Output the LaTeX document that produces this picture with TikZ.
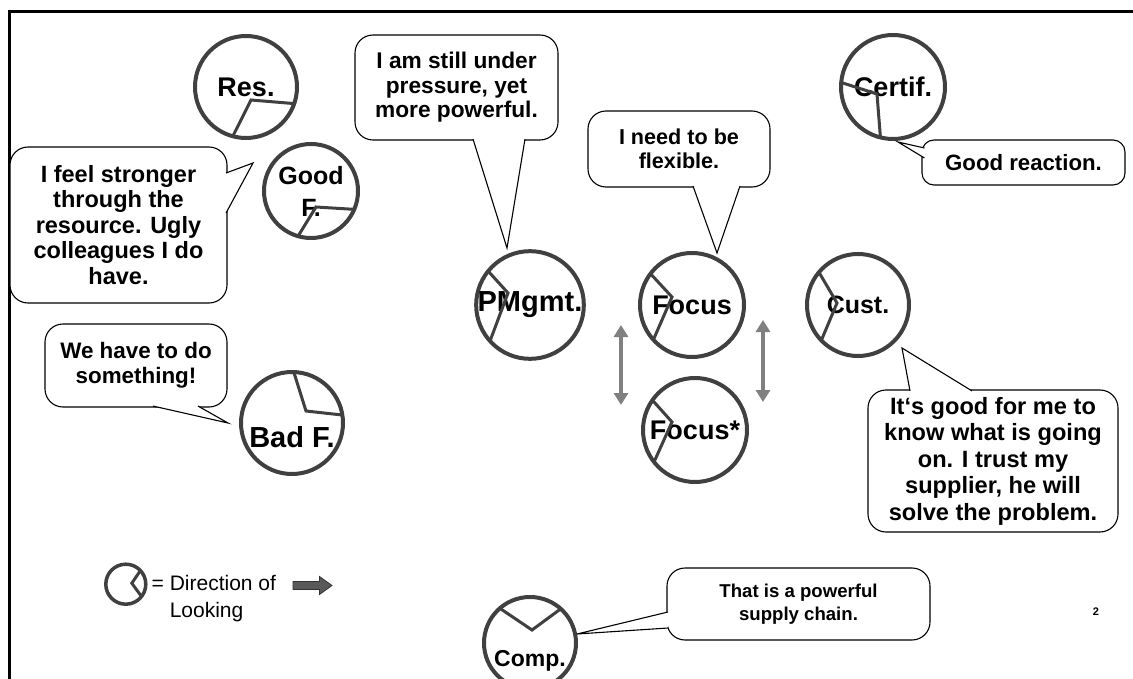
\documentclass[tikz,border=0pt]{standalone}
\usepackage{fontspec}
\setmainfont{Liberation Sans}
\usepackage{tikz}
\usetikzlibrary{positioning}
\usetikzlibrary{arrows.meta}
\usetikzlibrary{calc}
\usetikzlibrary{math}

\definecolor{ringgray}{HTML}{404040}
\definecolor{arrowgray}{HTML}{808080}
\definecolor{blockgray}{HTML}{595959}

\tikzset{
  actor/.style={circle, draw=ringgray, line width=4pt, fill=white, inner sep=0pt, outer sep=0pt,
    minimum size=102pt, align=center, font=\bfseries\fontsize{27}{32}\selectfont},
  look/.style={draw=ringgray, line width=3pt},
  bubble/.style={draw=black, line width=1.1pt, fill=white, rounded corners=18pt, inner sep=0pt, align=center},
  tailside/.style={draw=black, line width=1.1pt},
  updown/.style={arrowgray, line width=4.5pt, {Triangle[length=12pt,width=14pt]}-{Triangle[length=12pt,width=14pt]}},
}

\begin{document}
\begin{tikzpicture}[x=1pt,y=-1pt]
      \tikzmath{
        \dBig = 102;
        \dMid = 104;
        \dSmall = 94;
        \dComp = 92;
        \dKey = 40;
      }
      \useasboundingbox (0,0) rectangle (1133,679);

      % frame
      \draw[line width=3pt] (9.7,679) -- (9.7,11.3) -- (1133,11.3);

      % the parties
      \node[actor, minimum size=\dBig pt] (res) at (246,87) {Res.};
      \node[actor, minimum size=\dSmall pt, font=\bfseries\fontsize{25}{32}\selectfont] (goodf) at (311,191) {Good\\F.};
      \node[actor, minimum size=\dBig pt, font=\bfseries\fontsize{29}{32}\selectfont,
        text height=48.8pt, text depth=0pt] (badf) at (292,423) {Bad F.};
      \node[actor, minimum size=\dBig pt, font=\bfseries\fontsize{29}{32}\selectfont] (pm) at (530,305) {PMgmt.};
      \node[actor, minimum size=\dMid pt] (focus) at (692,305) {Focus};
      \node[actor, minimum size=\dMid pt] (focusb) at (695,430) {Focus*};
      \node[actor, minimum size=\dBig pt, font=\bfseries\fontsize{25}{32}\selectfont] (cust) at (858,305) {Cust.};
      \node[actor, minimum size=\dMid pt] (certif) at (893,87) {Certif.};
      \node[actor, minimum size=\dComp pt, font=\bfseries\fontsize{23}{28}\selectfont,
        text height=51.2pt, text depth=4.8pt] (comp) at (530,643) {Comp.};

      % direction of looking
      \draw[look] (res.-19) -- ($(res.center)+(5,13)$) -- (res.-105);
      \draw[look] (goodf.-23) -- ($(goodf.center)+(5,16)$) -- (goodf.-106);
      \draw[look] (badf.88) -- ($(badf.center)+(14,-12)$) -- (badf.9);
      \draw[look] (pm.141) -- ($(pm.center)+(-22,-12)$) -- (pm.-138);
      \draw[look] (focus.143) -- ($(focus.center)+(-20,-8)$) -- (focus.-138);
      \draw[look] (focusb.145) -- ($(focusb.center)+(-23,-8)$) -- (focusb.-142);
      \draw[look] (cust.140) -- ($(cust.center)+(-21,-2)$) -- (cust.-136);
      \draw[look] (certif.175) -- ($(certif.center)+(-16,7)$) -- (certif.-104);
      \draw[look] (comp.131) -- ($(comp.center)+(2,-13)$) -- (comp.48);

      % what they say
      \node[bubble, minimum width=217pt, minimum height=156pt, font=\bfseries\fontsize{23.5}{25.5}\selectfont]
        (feel) at (118.5,225) {I feel stronger\\through the\\resource. Ugly\\colleagues I do\\have.};
      \node[bubble, minimum width=203pt, minimum height=105pt, font=\bfseries\fontsize{22.7}{24.5}\selectfont]
        (pressure) at (456.5,87.5) {I am still under\\pressure, yet\\more powerful.};
      \node[bubble, minimum width=182pt, minimum height=76pt, font=\bfseries\fontsize{21.6}{24}\selectfont]
        (flexible) at (679,149) {I need to be\\flexible.};
      \node[bubble, minimum width=182pt, minimum height=83pt, font=\bfseries\fontsize{22.4}{25}\selectfont]
        (something) at (136,365.5) {We have to do\\something!};
      \node[bubble, rounded corners=12pt, minimum width=203pt, minimum height=45pt, font=\bfseries\fontsize{22.2}{25}\selectfont]
        (reaction) at (1023.5,162.5) {Good reaction.};
      \node[bubble, minimum width=250pt, minimum height=142pt, font=\bfseries\fontsize{23.6}{26.5}\selectfont]
        (going) at (993,461) {It‘s good for me to\\know what is going\\on. I trust my\\supplier, he will\\solve the problem.};
      \node[bubble, minimum width=263pt, minimum height=72pt, font=\bfseries\fontsize{18.6}{23}\selectfont]
        (powerful) at (798.5,604) {That is a powerful\\supply chain.};

      \coordinate (feel tip) at (253,163);
      \coordinate (pressure tip) at (507,248);
      \coordinate (flexible tip) at (717,253);
      \coordinate (something tip) at (228,423);
      \coordinate (reaction tip) at (898,142);
      \coordinate (going tip) at (902,348);
      \coordinate (powerful tip) at (577,634);

      \fill[white] ($(feel.east)+(-1.5,-52)$) -- (feel tip) -- ($(feel.east)+(-1.5,-12)$) -- cycle;
      \draw[tailside] ($(feel.east)+(-1.5,-52)$) -- (feel tip) -- ($(feel.east)+(-1.5,-12)$);
      \fill[white] ($(pressure.south)+(16.5,-1.5)$) -- (pressure tip) -- ($(pressure.south)+(68.5,-1.5)$) -- cycle;
      \draw[tailside] ($(pressure.south)+(16.5,-1.5)$) -- (pressure tip) -- ($(pressure.south)+(68.5,-1.5)$);
      \fill[white] ($(flexible.south)+(14,-1.5)$) -- (flexible tip) -- ($(flexible.south)+(61,-1.5)$) -- cycle;
      \draw[tailside] ($(flexible.south)+(14,-1.5)$) -- (flexible tip) -- ($(flexible.south)+(61,-1.5)$);
      \fill[white] ($(something.south)+(17,-1.5)$) -- (something tip) -- ($(something.south)+(62,-1.5)$) -- cycle;
      \draw[tailside] ($(something.south)+(17,-1.5)$) -- (something tip) -- ($(something.south)+(62,-1.5)$);
      \fill[white] ($(reaction.west)+(3,-14.5)$) -- (reaction tip) -- ($(reaction.west)+(3,-4.5)$) -- cycle;
      \draw[tailside] ($(reaction.west)+(3,-14.5)$) -- (reaction tip) -- ($(reaction.west)+(3,-4.5)$);
      \fill[white] ($(going.north)+(-83,1.5)$) -- (going tip) -- ($(going.north)+(-21,1.5)$) -- cycle;
      \draw[tailside] ($(going.north)+(-83,1.5)$) -- (going tip) -- ($(going.north)+(-21,1.5)$);
      \fill[white] ($(powerful.west)+(1.5,8)$) -- (powerful tip) -- ($(powerful.west)+(1.5,24)$) -- cycle;
      \draw[tailside] ($(powerful.west)+(1.5,8)$) -- (powerful tip) -- ($(powerful.west)+(1.5,24)$);

      % focus <-> focus*
      \coordinate (left top) at (621,325);
      \coordinate (left bottom) at (621,405);
      \coordinate (right top) at (763,320);
      \coordinate (right bottom) at (763,402);
      \draw[updown] (left top) -- (left bottom);
      \draw[updown] (right top) -- (right bottom);

      % legend
      \node[actor, minimum size=\dKey pt, line width=3.5pt, fill=none] (key) at (125.8,584.2) {};
      \draw[look] (key.43) -- ($(key.center)+(6,-1)$) -- (key.-38);
      \node[anchor=west, align=left, inner sep=0pt, font=\fontsize{21}{27}\selectfont]
        (keytext) at (151.5,598.5) {= Direction of\\\hphantom{=\ }Looking};
      \filldraw[fill=blockgray, draw=black!80, line width=0.8pt]
        (293,581.5) -- (319.5,581.5) -- (319.5,576.5) -- (332,585.5) -- (319.5,594.5) -- (319.5,589.5) -- (293,589.5) -- cycle;

      \node[font=\bfseries\fontsize{11}{13}\selectfont] (pagenum) at (1096,612) {2};
\end{tikzpicture}
\end{document}
